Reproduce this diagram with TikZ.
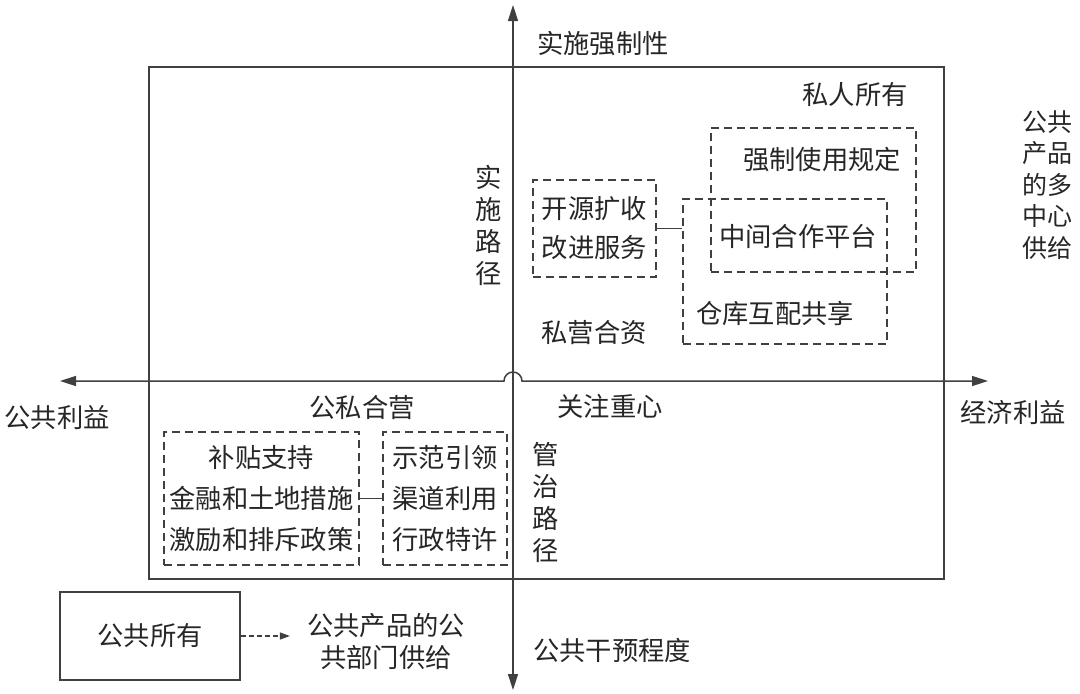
\documentclass[tikz,border=0pt]{standalone}
\usepackage{fontspec}
\setmainfont{Noto Sans CJK SC}
\usetikzlibrary{arrows.meta}
\definecolor{linegray}{HTML}{404040}
\definecolor{textgray}{HTML}{262626}
\tikzset{
  outerbox/.style={
    rectangle, draw=linegray, line width=1.5pt, inner sep=0pt
  },
  axisline/.style={
    draw=linegray, line width=1.5pt,
    {Triangle[length=16pt,width=10pt]}-{Triangle[length=16pt,width=10pt]}
  },
  dashbox/.style={
    rectangle, draw=linegray, line width=1.3pt, dash pattern=on 8pt off 5pt,
    inner sep=0pt, align=center, text=textgray
  },
  word/.style={
    font=\fontsize{26.3}{32}\selectfont, text=textgray, inner sep=0pt, align=center
  },
  joint/.style={
    draw=linegray, line width=1.3pt
  },
  hint/.style={
    draw=linegray, line width=1.3pt, dash pattern=on 5pt off 3pt,
    -{Triangle[length=10pt,width=7pt]}
  }
}
\begin{document}
\begin{tikzpicture}[x=1pt, y=-1pt]
  \useasboundingbox (0,0) rectangle (1080,694);
  % frame and axes
  \node[outerbox, minimum width=795pt, minimum height=512pt] (field) at (546.5,323) {};
  \coordinate (top) at (513,5);
  \coordinate (bottom) at (513,690);
  \coordinate (west) at (60,381);
  \coordinate (east) at (988,381);
  \coordinate (cross) at (513,381);
  \draw[axisline] (bottom) -- (top);
  \draw[axisline] (west) -- ([xshift=-9pt]cross) arc[start angle=180, end angle=0, radius=9pt] -- (east);
  % axis labels
  \node[word] (force) at (603,44) {实施强制性};
  \node[word] (interv) at (612,650) {公共干预程度};
  \node[word] (publicgain) at (57,418) {公共利益};
  \node[word] (econgain) at (1013,412) {经济利益};
  \node[word, font=\fontsize{25}{31.5}\selectfont] (multi) at (1047,185) {公共\\产品\\的多\\中心\\供给};
  % upper half
  \node[word] (private) at (855,95) {私人所有};
  \node[word] (implpath) at (489,225) {实\\施\\路\\径};
  \node[dashbox, font=\fontsize{26.3}{39}\selectfont, minimum width=123pt, minimum height=97pt] (expand) at (594.5,228.5) {开源扩收\\改进服务};
  \node[dashbox, minimum width=205pt, minimum height=144pt] (rule) at (813.5,200) {};
  \node[dashbox, minimum width=204pt, minimum height=145pt] (platform) at (785,271.5) {};
  \node[word] (ruletext) at (822,160) {强制使用规定};
  \node[word] (midtext) at (798,236) {中间合作平台};
  \node[word] (storetext) at (775,313) {仓库互配共享};
  \node[word] (jointcap) at (594,332) {私营合资};
  \draw[joint] (expand.east) -- (expand.east -| platform.west);
  % lower half
  \node[word] (ppp) at (362,407) {公私合营};
  \node[word] (focus) at (610,406) {关注重心};
  \node[word] (govpath) at (546,502) {管\\治\\路\\径};
  \node[dashbox, font=\fontsize{26.3}{41}\selectfont, minimum width=195pt, minimum height=133pt] (subsidy) at (261.5,498.5) {补贴支持\\金融和土地措施\\激励和排斥政策};
  \node[dashbox, font=\fontsize{26.3}{41}\selectfont, minimum width=124pt, minimum height=133pt] (guide) at (445,498.5) {示范引领\\渠道利用\\行政特许};
  \draw[joint] (subsidy.east) -- (guide.west);
  % legend
  \node[outerbox, word, minimum width=180pt, minimum height=88pt] (pubown) at (150,636) {公共所有};
  \node[word] (supply) at (386,641) {公共产品的公\\共部门供给};
  \draw[hint, shorten >=17pt] (pubown.east) -- (pubown.east -| supply.west);
\end{tikzpicture}
\end{document}
